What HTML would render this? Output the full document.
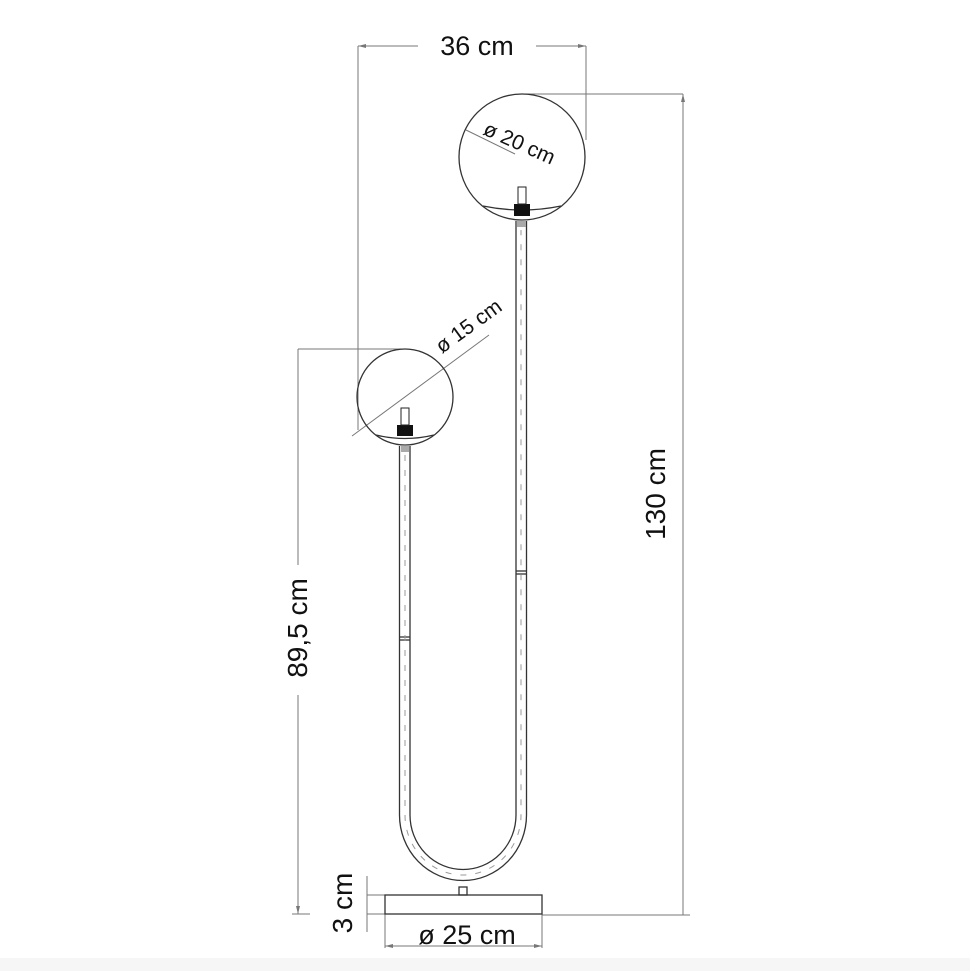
<!DOCTYPE html>
<html><head><style>
html,body{margin:0;padding:0;background:#fff}
svg{display:block}
text{font-family:"Liberation Sans",sans-serif;fill:#111}
</style></head><body>
<svg width="970" height="971" viewBox="0 0 970 971" xmlns="http://www.w3.org/2000/svg">
<rect x="0" y="958" width="970" height="13" fill="#f6f6f6"/>
<g stroke="#777" stroke-width="1" fill="none">
<line x1="358" y1="46" x2="418" y2="46"/><line x1="536" y1="46" x2="586" y2="46"/>
<line x1="358" y1="46" x2="358" y2="430"/><line x1="586" y1="46" x2="586" y2="140"/>
<line x1="522" y1="94" x2="683" y2="94"/><line x1="683" y1="94" x2="683" y2="915"/><line x1="542" y1="915" x2="690" y2="915"/>
<line x1="298" y1="349" x2="405" y2="349"/><line x1="298" y1="349" x2="298" y2="565"/><line x1="298" y1="695" x2="298" y2="914"/><line x1="292" y1="914" x2="310" y2="914"/>
<line x1="367" y1="876" x2="367" y2="932"/><line x1="367" y1="895" x2="385" y2="895"/><line x1="367" y1="914" x2="385" y2="914"/>
<line x1="385" y1="914" x2="385" y2="948"/><line x1="542" y1="914" x2="542" y2="948"/><line x1="385" y1="946" x2="542" y2="946"/>
<line x1="352" y1="436" x2="489" y2="335"/>
<line x1="466" y1="130" x2="515" y2="154"/>
</g>
<g fill="#777">
<polygon points="358,46 366,44 366,48"/><polygon points="586,46 578,44 578,48"/>
<polygon points="683,94 681,102 685,102"/><polygon points="298,914 296,906 300,906"/>
<polygon points="385,946 393,944 393,948"/><polygon points="542,946 534,944 534,948"/>
</g>
<g stroke="#333" stroke-width="1.3" fill="none">
<circle cx="522" cy="157" r="63"/>
<circle cx="405" cy="397" r="48"/>
<path d="M483 206 Q522 214 561 206"/>
<path d="M376 435 Q405 442 434 435"/>
<path d="M399.5 446 V815 A63 65 0 0 0 526.5 815 V221"/>
<path d="M410 446 V815 A52.5 54 0 0 0 516 815 V221"/>
<line x1="399.5" y1="637" x2="410" y2="637"/><line x1="399.5" y1="640" x2="410" y2="640"/>
<line x1="516" y1="571" x2="526.5" y2="571"/><line x1="516" y1="574" x2="526.5" y2="574"/>
<rect x="385" y="895" width="157" height="19"/>
<rect x="459" y="887" width="8" height="8"/>
</g>
<path d="M405 455 V815 A58 60 0 0 0 521 815 V230" stroke="#999" stroke-width="1" fill="none" stroke-dasharray="6 9"/>
<g fill="#111">
<rect x="397" y="425" width="16" height="11"/><rect x="401" y="408" width="8" height="17" fill="#fff" stroke="#222"/>
<rect x="514" y="204" width="16" height="12"/><rect x="518" y="187" width="8" height="17" fill="#fff" stroke="#222"/>
</g>
<rect x="401" y="446" width="8" height="6" fill="#aaa"/><rect x="517" y="221" width="9" height="6" fill="#aaa"/>
<text x="477" y="55" font-size="27" text-anchor="middle">36 cm</text>
<text x="0" y="0" font-size="21" transform="translate(482,134) rotate(24)">ø 20 cm</text>
<text x="0" y="0" font-size="21" transform="translate(442,354) rotate(-36)">ø 15 cm</text>
<text x="0" y="0" font-size="28" text-anchor="middle" transform="translate(665,494) rotate(-90)">130 cm</text>
<text x="0" y="0" font-size="28" text-anchor="middle" transform="translate(307,628) rotate(-90)">89,5 cm</text>
<text x="0" y="0" font-size="28" text-anchor="middle" transform="translate(352,903) rotate(-90)">3 cm</text>
<text x="467" y="944" font-size="27" text-anchor="middle">ø 25 cm</text>
</svg>
</body></html>
